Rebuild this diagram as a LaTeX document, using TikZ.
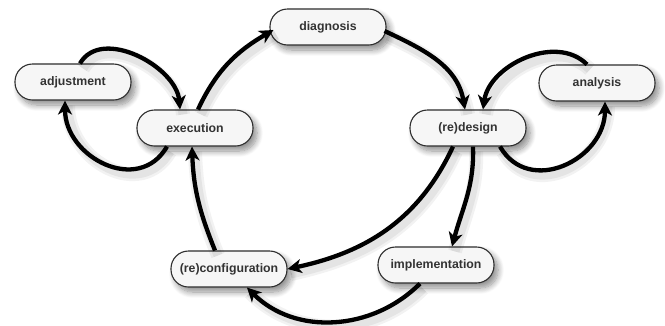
\documentclass[tikz,border=0pt]{standalone}
\usepackage{fontspec}
\setmainfont{Liberation Sans}
\usetikzlibrary{arrows.meta,shadows.blur}
\definecolor{boxfill}{HTML}{F6F6F6}
\definecolor{boxline}{HTML}{2E2E2E}
\definecolor{txt}{HTML}{333333}
\begin{document}
\begin{tikzpicture}[x=1pt,y=1pt,
  state/.style={draw=boxline,line width=1.1pt,fill=boxfill,rounded corners=17.5pt,
    minimum width=116pt,minimum height=36pt,inner xsep=2pt,
    font=\fontsize{12.3}{14}\selectfont\bfseries,text=txt,
    blur shadow={shadow xshift=4pt,shadow yshift=-5pt,shadow blur radius=6pt,shadow blur steps=10,shadow opacity=45}},
  arr/.style={line width=4.3pt,-{Stealth[length=14pt,width=14pt,inset=4pt]},
    preaction={draw=black,-,opacity=0.05,line width=14pt,transform canvas={shift={(3pt,-5pt)}}},
    preaction={draw=black,-,opacity=0.06,line width=9pt,transform canvas={shift={(3pt,-5pt)}}}}
]
\useasboundingbox (0,0) rectangle (665,-325);
\node[state] (diag) at (328,-27) {diagnosis};
\node[state] (adj) at (73,-82) {adjustment};
\node[state] (exec) at (195,-128) {execution};
\node[state] (redes) at (468,-128) {(re)design};
\node[state] (anal) at (597,-83) {analysis};
\node[state] (reconf) at (229,-269) {(re)configuration};
\node[state] (impl) at (436,-265) {implementation};

\draw[arr] ([xshift=3pt]exec.north) to[out=65,in=210] ([xshift=4pt,yshift=-3pt]diag.west);
\draw[arr] ([xshift=-2pt,yshift=-4pt]diag.east) to[out=-25,in=100] ([xshift=-3pt]redes.north);
\draw[arr] ([xshift=-10pt]anal.north) to[out=135,in=82] ([xshift=15pt]redes.north);
\draw[arr] ([xshift=32pt]redes.south) to[out=-60,in=-90,looseness=1.3] ([xshift=8pt]anal.south);
\draw[arr] ([xshift=7pt]adj.north) to[out=60,in=95] ([xshift=-15pt]exec.north);
\draw[arr] ([xshift=-28pt]exec.south) to[out=-120,in=-90,looseness=1.3] ([xshift=-8pt]adj.south);
\draw[arr] ([xshift=-14pt]reconf.north) to[out=112,in=-88] ([xshift=-3pt]exec.south);
\draw[arr] ([xshift=-15pt]redes.south) to[out=-115,in=12] (reconf.east);
\draw[arr] ([xshift=5pt]redes.south) to[out=-88,in=75] ([xshift=16pt]impl.north);
\draw[arr] ([xshift=-16pt]impl.south) to[out=-135,in=-45] ([xshift=18pt]reconf.south);
\end{tikzpicture}
\end{document}
